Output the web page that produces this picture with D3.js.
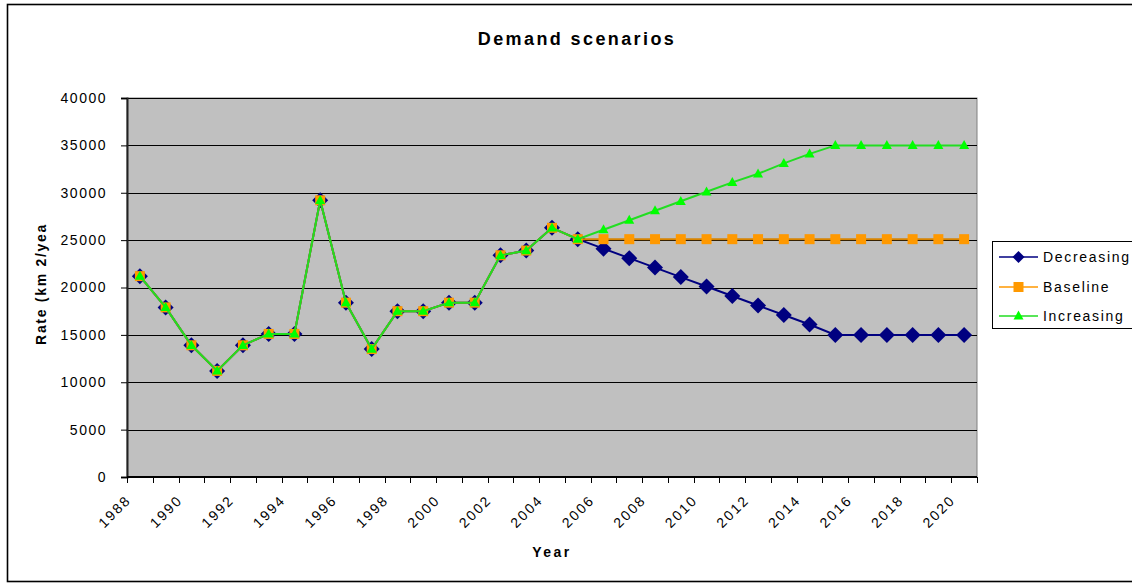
<!DOCTYPE html>
<html>
<head>
<meta charset="utf-8">
<script src="https://cdn.jsdelivr.net/npm/d3@7"></script>
<style>
  html, body { margin: 0; padding: 0; background: #ffffff; overflow: hidden; }
  svg { display: block; font-family: "Liberation Sans", Arial, sans-serif; }
</style>
</head>
<body>
<svg id="chart" width="1132" height="583"></svg>
<script>
// Years on the category axis
const years = [1988, 1989, 1990, 1991, 1992, 1993, 1994, 1995, 1996, 1997, 1998,
  1999, 2000, 2001, 2002, 2003, 2004, 2005, 2006, 2007, 2008, 2009, 2010,
  2011, 2012, 2013, 2014, 2015, 2016, 2017, 2018, 2019, 2020];

// Demand rate per scenario (historical record shared up to 2005)
const decreasing = [21200, 17900, 13900, 11200, 13900, 15100, 15100, 29200, 18400,
  13500, 17500, 17500, 18400, 18400, 23400, 23900, 26300, 25100,
  24100, 23100, 22100, 21100, 20100, 19100, 18100, 17100, 16100, 15000,
  15000, 15000, 15000, 15000, 15000];
const baseline = [21200, 17900, 13900, 11200, 13900, 15100, 15100, 29200, 18400,
  13500, 17500, 17500, 18400, 18400, 23400, 23900, 26300, 25100,
  25100, 25100, 25100, 25100, 25100, 25100, 25100, 25100, 25100, 25100,
  25100, 25100, 25100, 25100, 25100];
const increasing = [21200, 17900, 13900, 11200, 13900, 15100, 15100, 29200, 18400,
  13500, 17500, 17500, 18400, 18400, 23400, 23900, 26300, 25100,
  26100, 27100, 28100, 29100, 30100, 31100, 32000, 33100, 34100, 35000,
  35000, 35000, 35000, 35000, 35000];

const seriesNames = ["Decreasing", "Baseline", "Increasing"];
const yTicks = [0, 5000, 10000, 15000, 20000, 25000, 30000, 35000, 40000];
const xLabelYears = [1988, 1990, 1992, 1994, 1996, 1998, 2000, 2002, 2004,
  2006, 2008, 2010, 2012, 2014, 2016, 2018, 2020];

const series = [
  { name: seriesNames[0], values: decreasing, line: "#000080", fill: "#000080", shape: "diamond" },
  { name: seriesNames[1], values: baseline, line: "#D88400", fill: "#FF9900", shape: "square" },
  { name: seriesNames[2], values: increasing, line: "#22DD22", fill: "#00FF00", shape: "triangle" }
];

const svg = d3.select("#chart");

// Chart frame
svg.append("rect")
  .attr("x", 7.5).attr("y", 4.5).attr("width", 1200).attr("height", 577)
  .attr("fill", "#ffffff").attr("stroke", "#000").attr("stroke-width", 1.6);

const plot = { left: 127, right: 977, top: 98, bottom: 477 };

const x = d3.scaleBand().domain(years).range([plot.left, plot.right]).padding(0);
const y = d3.scaleLinear().domain([0, 40000]).range([plot.bottom, plot.top]);
const cx = d => x(d) + x.bandwidth() / 2;

// Plot area
svg.append("rect")
  .attr("x", plot.left).attr("y", plot.top)
  .attr("width", plot.right - plot.left).attr("height", plot.bottom - plot.top)
  .attr("fill", "#C0C0C0").attr("stroke", "#808080").attr("stroke-width", 1);

// Horizontal gridlines
svg.append("g").selectAll("line").data(yTicks.filter(t => t > 0)).join("line")
  .attr("x1", plot.left).attr("x2", plot.right)
  .attr("y1", d => Math.round(y(d)) + 0.5).attr("y2", d => Math.round(y(d)) + 0.5)
  .attr("stroke", "#000").attr("stroke-width", 1);

// Y axis
const yAxis = svg.append("g")
  .attr("transform", `translate(${plot.left},0)`)
  .call(d3.axisLeft(y).tickValues(yTicks).tickSize(6).tickPadding(14).tickFormat(d3.format("d")));
yAxis.select(".domain").attr("stroke", "#222").attr("stroke-width", 2);
yAxis.selectAll(".tick line").attr("stroke", "#000");
yAxis.selectAll(".tick text")
  .attr("font-size", 14).attr("fill", "#000")
  .attr("font-family", "'Liberation Sans', Arial, sans-serif")
  .style("letter-spacing", "1.5px");

// X axis line and category boundary ticks
const xg = svg.append("g");
xg.append("line")
  .attr("x1", plot.left).attr("x2", plot.right)
  .attr("y1", plot.bottom).attr("y2", plot.bottom)
  .attr("stroke", "#000").attr("stroke-width", 2);
const bounds = years.map(d => x(d)).concat([x(years[years.length - 1]) + x.bandwidth()]);
xg.selectAll("line.tk").data(bounds).join("line").attr("class", "tk")
  .attr("x1", d => Math.round(d) + 0.5).attr("x2", d => Math.round(d) + 0.5)
  .attr("y1", plot.bottom).attr("y2", plot.bottom + 6)
  .attr("stroke", "#000").attr("stroke-width", 1);
xg.selectAll("text").data(xLabelYears).join("text")
  .attr("transform", d => `translate(${cx(d) - 8},${plot.bottom + 24}) rotate(-45)`)
  .attr("text-anchor", "end")
  .attr("font-size", 14).attr("fill", "#000")
  .style("letter-spacing", "2px")
  .text(d => d);

// Series lines and markers
const lineGen = d3.line().x((d, i) => cx(years[i])).y(d => y(d));

function drawMarker(g, shape, fill, size) {
  if (shape === "diamond") {
    const r = size;
    g.append("path").attr("d", `M0,${-r}L${r},0L0,${r}L${-r},0Z`).attr("fill", fill);
  } else if (shape === "square") {
    const h = size;
    g.append("rect").attr("x", -h).attr("y", -h).attr("width", 2 * h).attr("height", 2 * h).attr("fill", fill);
  } else {
    const w = size, ht = size * 1.8;
    g.append("path").attr("d", `M0,${-ht * 0.6}L${w},${ht * 0.4}L${-w},${ht * 0.4}Z`).attr("fill", fill);
  }
}
const markerSize = { diamond: 8, square: 5, triangle: 5 };

series.forEach(s => {
  svg.append("path")
    .attr("d", lineGen(s.values))
    .attr("fill", "none").attr("stroke", s.line).attr("stroke-width", 2);
  const mg = svg.append("g");
  s.values.forEach((v, i) => {
    const g = mg.append("g").attr("transform", `translate(${cx(years[i])},${y(v)})`);
    drawMarker(g, s.shape, s.fill, markerSize[s.shape]);
  });
});

// Title
svg.append("text")
  .attr("x", 577).attr("y", 45)
  .attr("text-anchor", "middle")
  .attr("font-size", 18).attr("font-weight", "bold")
  .style("letter-spacing", "2.4px")
  .text("Demand scenarios");

// Axis titles
svg.append("text")
  .attr("x", 552).attr("y", 557)
  .attr("text-anchor", "middle")
  .attr("font-size", 14).attr("font-weight", "bold")
  .style("letter-spacing", "2.5px")
  .text("Year");

svg.append("text")
  .attr("transform", "translate(46,284) rotate(-90)")
  .attr("text-anchor", "middle")
  .attr("font-size", 14).attr("font-weight", "bold")
  .style("letter-spacing", "1.7px")
  .text("Rate (km 2/yea");

// Legend
const legend = svg.append("g");
legend.append("rect")
  .attr("x", 992.5).attr("y", 241.5).attr("width", 200).attr("height", 87)
  .attr("fill", "#fff").attr("stroke", "#000").attr("stroke-width", 1);
const legendY = [257, 287, 316];
series.forEach((s, i) => {
  const ly = legendY[i];
  legend.append("line")
    .attr("x1", 999).attr("x2", 1038).attr("y1", ly).attr("y2", ly)
    .attr("stroke", s.shape === "square" ? "#FF9900" : s.line).attr("stroke-width", 1.5);
  const g = legend.append("g").attr("transform", `translate(1018.5,${ly})`);
  drawMarker(g, s.shape, s.fill, s.shape === "diamond" ? 6 : 5);
  legend.append("text")
    .attr("x", 1043).attr("y", ly + 5)
    .attr("font-size", 14).attr("fill", "#000")
    .style("letter-spacing", "1.7px")
    .text(s.name);
});
</script>
</body>
</html>
